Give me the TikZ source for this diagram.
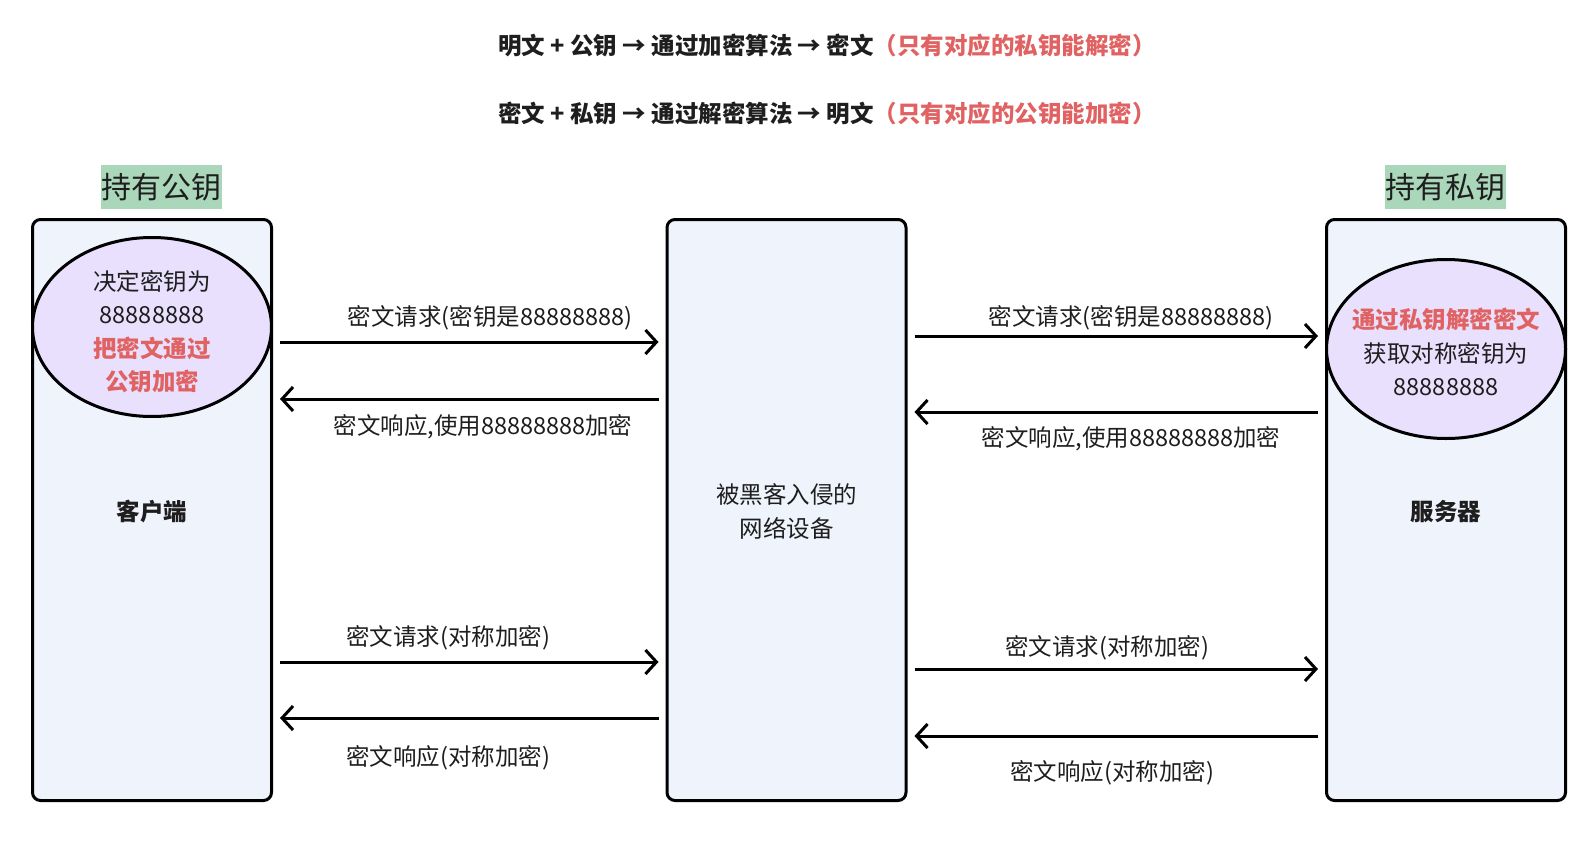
\documentclass[tikz,border=0pt]{standalone}
\usepackage{fontspec}
\setmainfont{Noto Sans CJK SC}
\usetikzlibrary{arrows.meta,shapes.geometric}

\definecolor{ink}{RGB}{30,30,30}
\definecolor{panelblue}{RGB}{238,243,252}
\definecolor{ovalpurple}{RGB}{232,224,252}
\definecolor{keyred}{RGB}{224,98,98}
\definecolor{taggreen}{RGB}{170,214,186}

\begin{document}
\begin{tikzpicture}[x=1pt, y=-1pt, line width=3pt, >={Straight Barb[length=11pt,width=24pt]},
    panel/.style={draw=black, rounded corners=8pt, fill=panelblue, minimum width=239pt, minimum height=581pt, inner sep=0pt, text=ink, align=center},
    keyoval/.style={draw=black, ellipse, fill=ovalpurple, minimum width=239pt, minimum height=179pt, inner sep=0pt},
    msg/.style={text=ink, font=\fontsize{23.5pt}{33.5pt}\selectfont, align=center},
    tag/.style={fill=taggreen, text=ink, inner sep=0pt, minimum width=121pt, minimum height=44pt, font=\fontsize{30pt}{36pt}\selectfont},
    flow/.style={->, line width=3pt, shorten <=7pt, shorten >=7pt}]
    \useasboundingbox (0,0) rectangle (1586,840);

    % 顶部说明
    \node[text=ink, font=\bfseries\fontsize{23.5pt}{28pt}\selectfont] (rule1) at (827,45.5) {明文 + 公钥 → 通过加密算法 → 密文{\color{keyred}（只有对应的私钥能解密）}};
    \node[text=ink, font=\bfseries\fontsize{23.5pt}{28pt}\selectfont] (rule2) at (827,113) {密文 + 私钥 → 通过解密算法 → 明文{\color{keyred}（只有对应的公钥能加密）}};

    % 三个框
    \node[panel, font=\bfseries\fontsize{23.5pt}{28pt}\selectfont] (client) at (152,510) {\raisebox{-2pt}[\height][\depth]{客户端}};
    \node[panel, font=\fontsize{23.5pt}{34pt}\selectfont] (hacker) at (786.5,510) {\raisebox{-4pt}[\height][\depth]{\begin{tabular}{@{}c@{}}被黑客入侵的\\网络设备\end{tabular}}};
    \node[panel, font=\bfseries\fontsize{23.5pt}{28pt}\selectfont] (server) at (1446,510) {\raisebox{-2pt}[\height][\depth]{服务器}};

    % 标签
    \node[tag] (pubtag) at (161.5,187) {持有公钥};
    \node[tag] (privtag) at (1445.5,187) {持有私钥};

    % 密钥椭圆
    \node[keyoval] (keyC) at (152,327) {};
    \node[msg] (keyCtext) at (152,331.5) {决定密钥为\\88888888\\{\color{keyred}\bfseries 把密文通过}\\{\color{keyred}\bfseries 公钥加密}};
    \node[keyoval] (keyS) at (1446,349) {};
    \node[msg] (keyStext) at (1446,352) {{\color{keyred}\bfseries 通过私钥解密密文}\\获取对称密钥为\\88888888};

    % 第一轮：交换密钥
    \draw[flow] ([yshift=168pt]client.east) -- ([yshift=168pt]hacker.west);
    \node[msg] (req1) at (490,318) {密文请求(密钥是88888888)};
    \draw[flow] ([yshift=111pt]hacker.west) -- ([yshift=111pt]client.east);
    \node[msg] (resp1) at (483,427) {密文响应,使用88888888加密};
    \draw[flow] ([yshift=174pt]hacker.east) -- ([yshift=174pt]server.west);
    \node[msg] (req2) at (1131,318) {密文请求(密钥是88888888)};
    \draw[flow] ([yshift=98pt]server.west) -- ([yshift=98pt]hacker.east);
    \node[msg] (resp2) at (1131,439) {密文响应,使用88888888加密};

    % 第二轮：对称加密
    \draw[flow] ([yshift=-152pt]client.east) -- ([yshift=-152pt]hacker.west);
    \node[msg] (req3) at (448,638) {密文请求(对称加密)};
    \draw[flow] ([yshift=-208pt]hacker.west) -- ([yshift=-208pt]client.east);
    \node[msg] (resp3) at (448,758) {密文响应(对称加密)};
    \draw[flow] ([yshift=-159pt]hacker.east) -- ([yshift=-159pt]server.west);
    \node[msg] (req4) at (1107,648) {密文请求(对称加密)};
    \draw[flow] ([yshift=-226pt]server.west) -- ([yshift=-226pt]hacker.east);
    \node[msg] (resp4) at (1112,773) {密文响应(对称加密)};
\end{tikzpicture}
\end{document}
